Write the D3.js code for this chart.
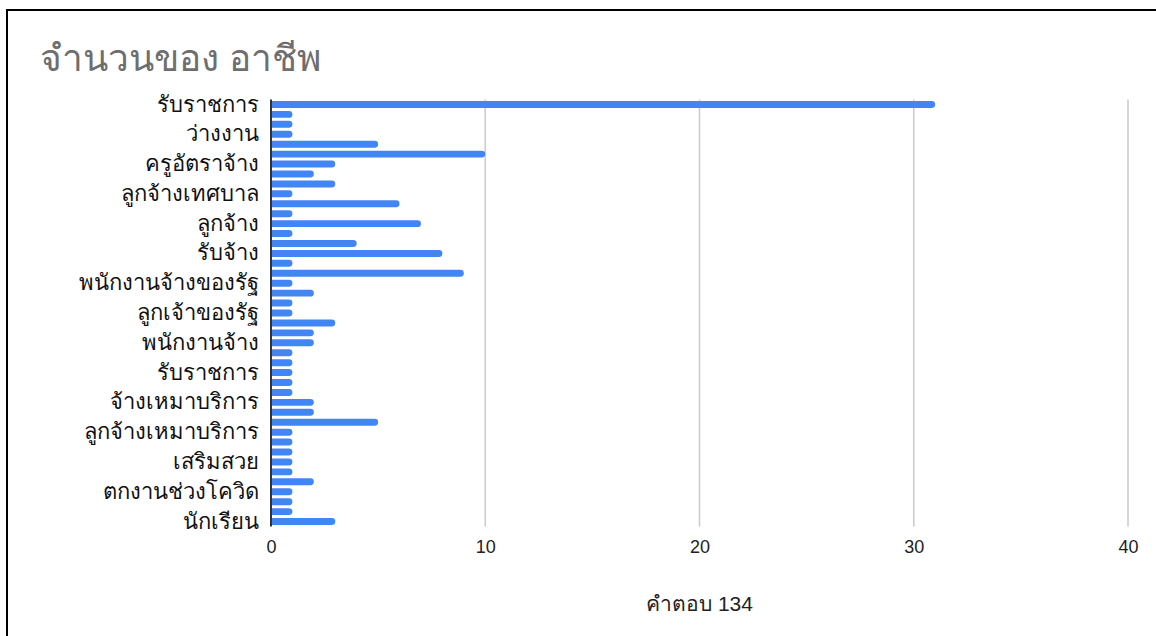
<!DOCTYPE html>
<html>
<head>
<meta charset="utf-8">
<script src="https://cdn.jsdelivr.net/npm/d3@7"></script>
<style>
  html, body { margin: 0; padding: 0; background: #fff; }
  svg { display: block; }
</style>
</head>
<body>
<svg id="chart" width="1156" height="636"></svg>
<script>
// Occupation counts; only every third category name is printed on the axis.
const categories = [
  "รับราชการ", "", "", "ว่างงาน", "", "", "ครูอัตราจ้าง", "", "",
  "ลูกจ้างเทศบาล", "", "", "ลูกจ้าง", "", "", "รับจ้าง", "", "",
  "พนักงานจ้างของรัฐ", "", "", "ลูกเจ้าของรัฐ", "", "", "พนักงานจ้าง", "", "",
  "รับราชการ", "", "", "จ้างเหมาบริการ", "", "", "ลูกจ้างเหมาบริการ", "", "",
  "เสริมสวย", "", "", "ตกงานช่วงโควิด", "", "", "นักเรียน"
];
const counts = [
  31, 1, 1, 1, 5, 10, 3, 2, 3,
  1, 6, 1, 7, 1, 4, 8, 1, 9,
  1, 2, 1, 1, 3, 2, 2, 1, 1,
  1, 1, 1, 2, 2, 5, 1, 1, 1,
  1, 1, 2, 1, 1, 1, 3
];
const xTicks = [0, 10, 20, 30, 40];
const title = "จำนวนของ อาชีพ";
const xTitle = "คำตอบ 134";

const svg = d3.select("#chart");
const font = "'Liberation Sans', Arial, sans-serif";

// frame
svg.append("rect")
  .attr("x", 7).attr("y", 10).attr("width", 1300).attr("height", 800)
  .attr("fill", "none").attr("stroke", "#000").attr("stroke-width", 2);

const margin = { left: 271, right: 1128, top: 99.5, bottom: 526.5 };

const x = d3.scaleLinear().domain([0, 40]).range([margin.left, margin.right]);
const y = d3.scaleBand()
  .domain(d3.range(counts.length))
  .range([margin.top, margin.bottom])
  .paddingInner(0.3).paddingOuter(0.15);

// vertical gridlines
svg.append("g")
  .selectAll("line")
  .data(xTicks.filter(t => t > 0))
  .join("line")
  .attr("x1", d => x(d)).attr("x2", d => x(d))
  .attr("y1", margin.top).attr("y2", margin.bottom)
  .attr("stroke", "#cccccc").attr("stroke-width", 1.6);

// bars with rounded right ends
const r = y.bandwidth() / 2;
svg.append("g")
  .selectAll("path")
  .data(counts)
  .join("path")
  .attr("fill", "#4285f4")
  .attr("d", (d, i) => {
    const x0 = x(0), x1 = x(d), y0 = y(i), h = y.bandwidth();
    const rr = Math.min(r, (x1 - x0) / 2);
    return `M${x0},${y0}H${x1 - rr}A${rr},${rr} 0 0 1 ${x1},${y0 + rr}` +
           `V${y0 + h - rr}A${rr},${rr} 0 0 1 ${x1 - rr},${y0 + h}H${x0}Z`;
  });

// baseline axis
svg.append("line")
  .attr("x1", x(0)).attr("x2", x(0))
  .attr("y1", margin.top).attr("y2", margin.bottom)
  .attr("stroke", "#333").attr("stroke-width", 2);

// category labels
const yAxis = d3.axisLeft(y).tickSize(0).tickPadding(12)
  .tickFormat(i => categories[i]);
svg.append("g")
  .attr("transform", `translate(${x(0)},0)`)
  .call(yAxis)
  .call(g => g.select(".domain").remove())
  .selectAll("text")
  .attr("font-family", font).attr("font-size", 22).attr("fill", "#111");

// value axis labels
const xAxis = d3.axisBottom(x).tickValues(xTicks).tickSize(0).tickPadding(14);
svg.append("g")
  .attr("transform", `translate(0,${margin.bottom})`)
  .call(xAxis)
  .call(g => g.select(".domain").remove())
  .selectAll("text")
  .attr("font-family", font).attr("font-size", 18).attr("fill", "#222");

// titles
svg.append("text")
  .attr("x", 40).attr("y", 71)
  .attr("font-family", font).attr("font-size", 37).attr("font-weight", 400)
  .attr("fill", "#6e6e6e")
  .text(title);

svg.append("text")
  .attr("x", (margin.left + margin.right) / 2).attr("y", 611)
  .attr("text-anchor", "middle")
  .attr("font-family", font).attr("font-size", 21).attr("fill", "#222")
  .text(xTitle);
</script>
</body>
</html>
